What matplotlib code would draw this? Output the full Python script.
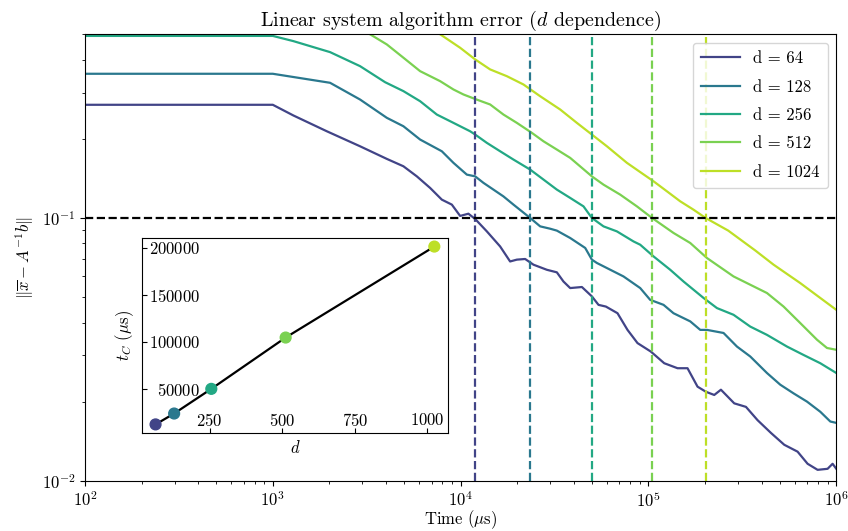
import matplotlib
matplotlib.use("Agg")
import matplotlib.pyplot as plt
import numpy as np

plt.rcParams["font.family"] = "serif"
plt.rcParams["font.serif"] = ["cmr10", "DejaVu Serif"]
plt.rcParams["mathtext.fontset"] = "cm"
plt.rcParams["axes.formatter.use_mathtext"] = True
plt.rcParams["font.size"] = 12

# dimensions and the crossing times t_C (error reaches 1e-1)
dims = [64, 128, 256, 512, 1024]
t_cross = [11900, 23500, 49800, 104500, 201500]
color_pos = [0.2, 0.4, 0.6, 0.8, 0.9]
threshold = 0.1

# error curves (time in microseconds)
t_64 = [100, 1000, 1287, 1938, 2915, 4046, 4958, 5845, 6879, 7942, 8978, 9938, 11000,
        11950, 13790, 16230, 18340, 19920, 22050, 24420, 28780, 32530, 35270, 38300,
        44220, 49970, 54190, 59340, 68420, 77340, 87440, 103000, 121300, 142800, 161400,
        182500, 202300, 224000, 243100, 286200, 330400, 380900, 448900, 528500, 622100,
        703400, 795200, 898600, 955700, 1000000]
e_64 = [0.2696, 0.2696, 0.2455, 0.2138, 0.1874, 0.1678, 0.1573, 0.1440, 0.1301, 0.1174,
        0.1124, 0.1018, 0.1038, 0.0991, 0.0889, 0.0779, 0.0683, 0.0694, 0.0698, 0.0664,
        0.0635, 0.0621, 0.0573, 0.0541, 0.0546, 0.0503, 0.0467, 0.0460, 0.0434, 0.0375,
        0.0334, 0.0310, 0.0280, 0.0268, 0.0268, 0.0228, 0.0218, 0.0212, 0.0222, 0.0197,
        0.0191, 0.0170, 0.0152, 0.0137, 0.0129, 0.0116, 0.0110, 0.0111, 0.0116, 0.0111]

t_128 = [100, 1000, 2018, 2915, 4046, 4958, 6085, 7942, 9156, 10790, 11950, 13230, 14950,
         16900, 19110, 21180, 23450, 26510, 29980, 32530, 38300, 46040, 49970, 53140,
         73640, 90370, 102100, 120300, 135900, 166900, 188700, 204800, 251000, 295900,
         348300, 427400, 503000, 592300, 698300, 821800, 929200, 1000000]
e_128 = [0.3538, 0.3538, 0.3269, 0.2823, 0.2405, 0.2234, 0.1988, 0.1794, 0.1621, 0.1462,
         0.1440, 0.1360, 0.1282, 0.1208, 0.1124, 0.1060, 0.1000, 0.0929, 0.0910, 0.0895,
         0.0839, 0.0769, 0.0694, 0.0674, 0.0599, 0.0541, 0.0488, 0.0467, 0.0434, 0.0404,
         0.0375, 0.0375, 0.0365, 0.0324, 0.0297, 0.0257, 0.0232, 0.0215, 0.0200, 0.0183,
         0.0168, 0.0166]

t_256 = [100, 1000, 1287, 2018, 2915, 3962, 4958, 6085, 7468, 9156, 11230, 11950, 13790,
         16230, 19110, 23450, 27610, 32530, 38300, 45090, 49970, 57630, 67920, 83260,
         90370, 106400, 130600, 153700, 196500, 231500, 283800, 348300, 427400, 546400,
         669600, 821800, 1000000]
e_256 = [0.493, 0.493, 0.4710, 0.4277, 0.3782, 0.3286, 0.3039, 0.2782, 0.2475, 0.2301,
         0.2138, 0.2077, 0.1931, 0.1794, 0.1668, 0.1528, 0.1400, 0.1282, 0.1192, 0.1107,
         0.1000, 0.0929, 0.0889, 0.0814, 0.0791, 0.0714, 0.0635, 0.0573, 0.0496, 0.0454,
         0.0428, 0.0386, 0.0359, 0.0324, 0.0301, 0.0280, 0.0257]

t_512 = [100, 1000, 2018, 2915, 3296, 4046, 4958, 6085, 7780, 9156, 10350, 11950, 14360,
         16900, 19920, 23940, 27610, 32530, 38300, 49970, 57630, 70700, 86780, 104500,
         135900, 166900, 204800, 283800, 348300, 427400, 524000, 643100, 789300, 892200,
         1000000]
e_512 = [0.68, 0.68, 0.588, 0.52, 0.500, 0.4575, 0.4073, 0.3620, 0.3316, 0.3083, 0.2951,
         0.2836, 0.2703, 0.2475, 0.2301, 0.2108, 0.1958, 0.1821, 0.1693, 0.1440, 0.1339,
         0.1227, 0.1107, 0.1000, 0.0877, 0.0803, 0.0704, 0.0599, 0.0557, 0.0518, 0.0460,
         0.0398, 0.0344, 0.0320, 0.0315]

t_1024 = [100, 1000, 2018, 2915, 3962, 4958, 6085, 7780, 9938, 11950, 14360, 17620, 21600,
          26510, 33880, 41570, 49970, 60080, 76780, 90370, 106400, 125400, 147600, 173800,
          201500, 265900, 370400, 463600, 643100, 821800, 1000000]
e_1024 = [1.0, 1.0, 0.87, 0.77, 0.67, 0.61, 0.56, 0.500, 0.4444, 0.4012, 0.3675, 0.3464,
          0.3221, 0.2906, 0.2587, 0.2301, 0.2077, 0.1874, 0.1621, 0.1495, 0.1379, 0.1263,
          0.1157, 0.1075, 0.1000, 0.0895, 0.0752, 0.0664, 0.0565, 0.0496, 0.0447]

times = [t_64, t_128, t_256, t_512, t_1024]
errors = [e_64, e_128, e_256, e_512, e_1024]
colors = [plt.cm.viridis(c) for c in color_pos]

fig = plt.figure(figsize=(8.48, 5.31), dpi=100)
ax = fig.add_axes([0.1002, 0.0947, 0.886, 0.8407])

for d, t, e, c in zip(dims, times, errors, colors):
    ax.plot(t, e, color=c, lw=1.6, label=f"d = {d}")
for tc, c in zip(t_cross, colors):
    ax.axvline(tc, color=c, ls="--", lw=1.6)
ax.axhline(threshold, color="k", ls="--", lw=1.6)

ax.set_xscale("log")
ax.set_yscale("log")
ax.set_xlim(1e2, 1e6)
ax.set_ylim(1e-2, 0.5)
ax.set_title(r"Linear system algorithm error ($d$ dependence)")
ax.set_xlabel(r"Time ($\mu$s)", labelpad=-1)
ax.set_ylabel(r"$\|\overline{x} - A^{-1}b\|$")
ax.legend(loc="upper right", labelspacing=0.78, handlelength=2.3, borderpad=0.5)

# inset: crossing time against dimension
ins = fig.add_axes([0.167, 0.184, 0.3616, 0.3684])
ins.plot(dims, t_cross, color="k", lw=1.6, zorder=1)
ins.scatter(dims, t_cross, c=colors, s=60, zorder=2)
ins.set_xticks([250, 500, 750, 1000])
ins.set_yticks([50000, 100000, 150000, 200000])
ins.tick_params(axis="y", direction="in", pad=-42)
ins.tick_params(axis="x", direction="in", pad=-15)
ins.set_xlabel(r"$d$")
ins.set_ylabel(r"$t_C$ ($\mu$s)")

fig.savefig("out.png", dpi=100)
